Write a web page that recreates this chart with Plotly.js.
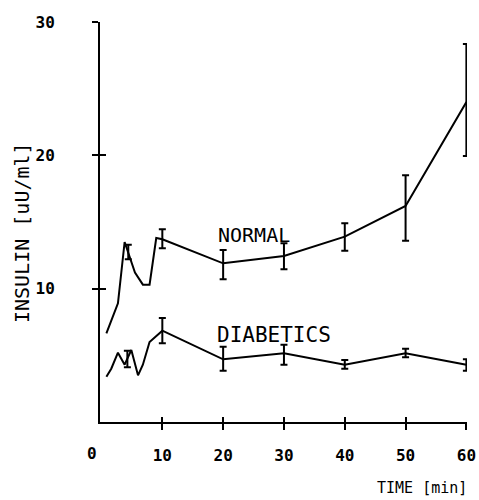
<!DOCTYPE html>
<html>
<head>
<meta charset="utf-8">
<script src="https://cdn.plot.ly/plotly-3.0.1.min.js"></script>
<style>html,body{margin:0;padding:0;background:#fff;}#chart{width:479px;height:500px;}</style>
</head>
<body>
<div id="chart"></div>
<script>
// Normal curve (time in min, insulin in uU/ml)
const normalTime  = [0.8, 2.7, 3.8, 4.4, 4.6, 5.5, 6.8, 7.9, 9.0, 10, 20, 30, 40, 50, 60];
const normalValue = [6.65, 8.9, 13.5, 12.7, 12.3, 11.2, 10.3, 10.3, 13.8, 13.7, 11.9, 12.45, 13.9, 16.2, 24.0];
// Normal error bars
const normalBarTime  = [4.4, 10, 20, 30, 40, 50, 60];
const normalBarValue = [12.7, 13.7, 11.9, 12.45, 13.9, 16.2, 24.0];
const normalBarUp    = [0.6, 0.75, 1.0, 0.95, 1.0, 2.3, 4.35];
const normalBarDown  = [0.5, 0.67, 1.2, 1.0, 1.05, 2.6, 4.05];

// Diabetic curve
const diabTime  = [0.8, 1.6, 2.7, 3.8, 4.25, 4.9, 6.0, 6.8, 7.9, 10, 20, 30, 40, 50, 60];
const diabValue = [3.4, 4.0, 5.2, 4.3, 4.75, 5.4, 3.5, 4.3, 6.0, 6.85, 4.7, 5.15, 4.3, 5.15, 4.3];
// Diabetic error bars
const diabBarTime  = [4.25, 10, 20, 30, 40, 50, 60];
const diabBarValue = [4.75, 6.85, 4.7, 5.15, 4.3, 5.15, 4.3];
const diabBarUp    = [0.6, 0.95, 0.95, 0.65, 0.35, 0.35, 0.4];
const diabBarDown  = [0.65, 0.95, 0.85, 0.85, 0.3, 0.3, 0.45];

// Axis ticks
const xTickVals = [10, 20, 30, 40, 50, 60];
const xTickText = ['10', '20', '30', '40', '50', '60'];
const yTickVals = [10, 20, 30];
const yTickText = ['10', '20', '30'];

const XR = [-0.25, 60.1];
const YR = [0, 30];
const mono = 'DejaVu Sans Mono, monospace';

function lineTrace(x, y, name) {
  return {x: x, y: y, name: name, mode: 'lines', type: 'scatter',
    line: {color: '#000', width: 2}, hoverinfo: 'skip', showlegend: false};
}
function barTrace(x, y, up, down, name) {
  return {x: x, y: y, name: name, mode: 'markers', type: 'scatter',
    marker: {size: 1, color: 'rgba(0,0,0,0)'},
    error_y: {type: 'data', symmetric: false, array: up, arrayminus: down,
      color: '#000', thickness: 2, width: 3.5},
    hoverinfo: 'skip', showlegend: false};
}

const traces = [
  lineTrace(normalTime, normalValue, 'NORMAL'),
  barTrace(normalBarTime, normalBarValue, normalBarUp, normalBarDown, 'NORMAL'),
  lineTrace(diabTime, diabValue, 'DIABETICS'),
  barTrace(diabBarTime, diabBarValue, diabBarUp, diabBarDown, 'DIABETICS'),
  {x: [null], y: [null], xaxis: 'x2', yaxis: 'y2', mode: 'markers', type: 'scatter',
   showlegend: false, hoverinfo: 'skip'}
];

const layout = {
  width: 479, height: 500,
  margin: {l: 100, r: 12, t: 22, b: 78},
  paper_bgcolor: '#fff', plot_bgcolor: '#fff',
  showlegend: false,
  font: {family: mono, color: '#000'},
  xaxis: {range: XR, showgrid: false, zeroline: false,
    showline: true, linecolor: '#000', linewidth: 2,
    ticks: 'outside', ticklen: 6, tickwidth: 2, tickcolor: '#000',
    tickvals: xTickVals, ticktext: xTickText,
    tickfont: {family: mono, size: 16, color: '#000', weight: 'bold'},
    ticklabelstandoff: 12},
  yaxis: {range: YR, showgrid: false, zeroline: false,
    showline: true, linecolor: '#000', linewidth: 2,
    ticks: 'outside', ticklen: 6, tickwidth: 2, tickcolor: '#000',
    tickvals: yTickVals, ticktext: yTickText,
    tickfont: {family: mono, size: 16, color: '#000', weight: 'bold'},
    ticklabelstandoff: 34},
  xaxis2: {range: XR, overlaying: 'x', anchor: 'y2', showgrid: false, zeroline: false,
    showline: false, ticks: 'inside', ticklen: 5, tickwidth: 2, tickcolor: '#000',
    tickvals: xTickVals, showticklabels: false},
  yaxis2: {range: YR, overlaying: 'y', anchor: 'x2', side: 'left', showgrid: false, zeroline: false,
    showline: false, ticks: 'inside', ticklen: 6, tickwidth: 2, tickcolor: '#000',
    tickvals: yTickVals, showticklabels: false},
  annotations: [
    {text: 'NORMAL', x: 25.1, y: 14.0, xref: 'x', yref: 'y', showarrow: false,
     font: {family: mono, size: 20, color: '#000'}},
    {text: 'DIABETICS', x: 28.3, y: 6.5, xref: 'x', yref: 'y', showarrow: false,
     font: {family: mono, size: 21, color: '#000'}},
    {text: '0', x: 0, y: 0, xref: 'x', yref: 'y', xshift: -10, yshift: -31, showarrow: false,
     font: {family: mono, size: 16, color: '#000', weight: 'bold'}},
    {text: 'TIME [min]', x: 0.877, y: -0.165, xref: 'paper', yref: 'paper', showarrow: false,
     xanchor: 'center', yanchor: 'middle',
     font: {family: mono, size: 15, color: '#000'}},
    {text: 'INSULIN [uU/ml]', x: -0.2125, y: 0.4725, xref: 'paper', yref: 'paper', showarrow: false,
     xanchor: 'center', yanchor: 'middle',
     textangle: -90, font: {family: mono, size: 20, color: '#000'}}
  ]
};

Plotly.newPlot('chart', traces, layout, {staticPlot: true, displayModeBar: false});
</script>
</body>
</html>
